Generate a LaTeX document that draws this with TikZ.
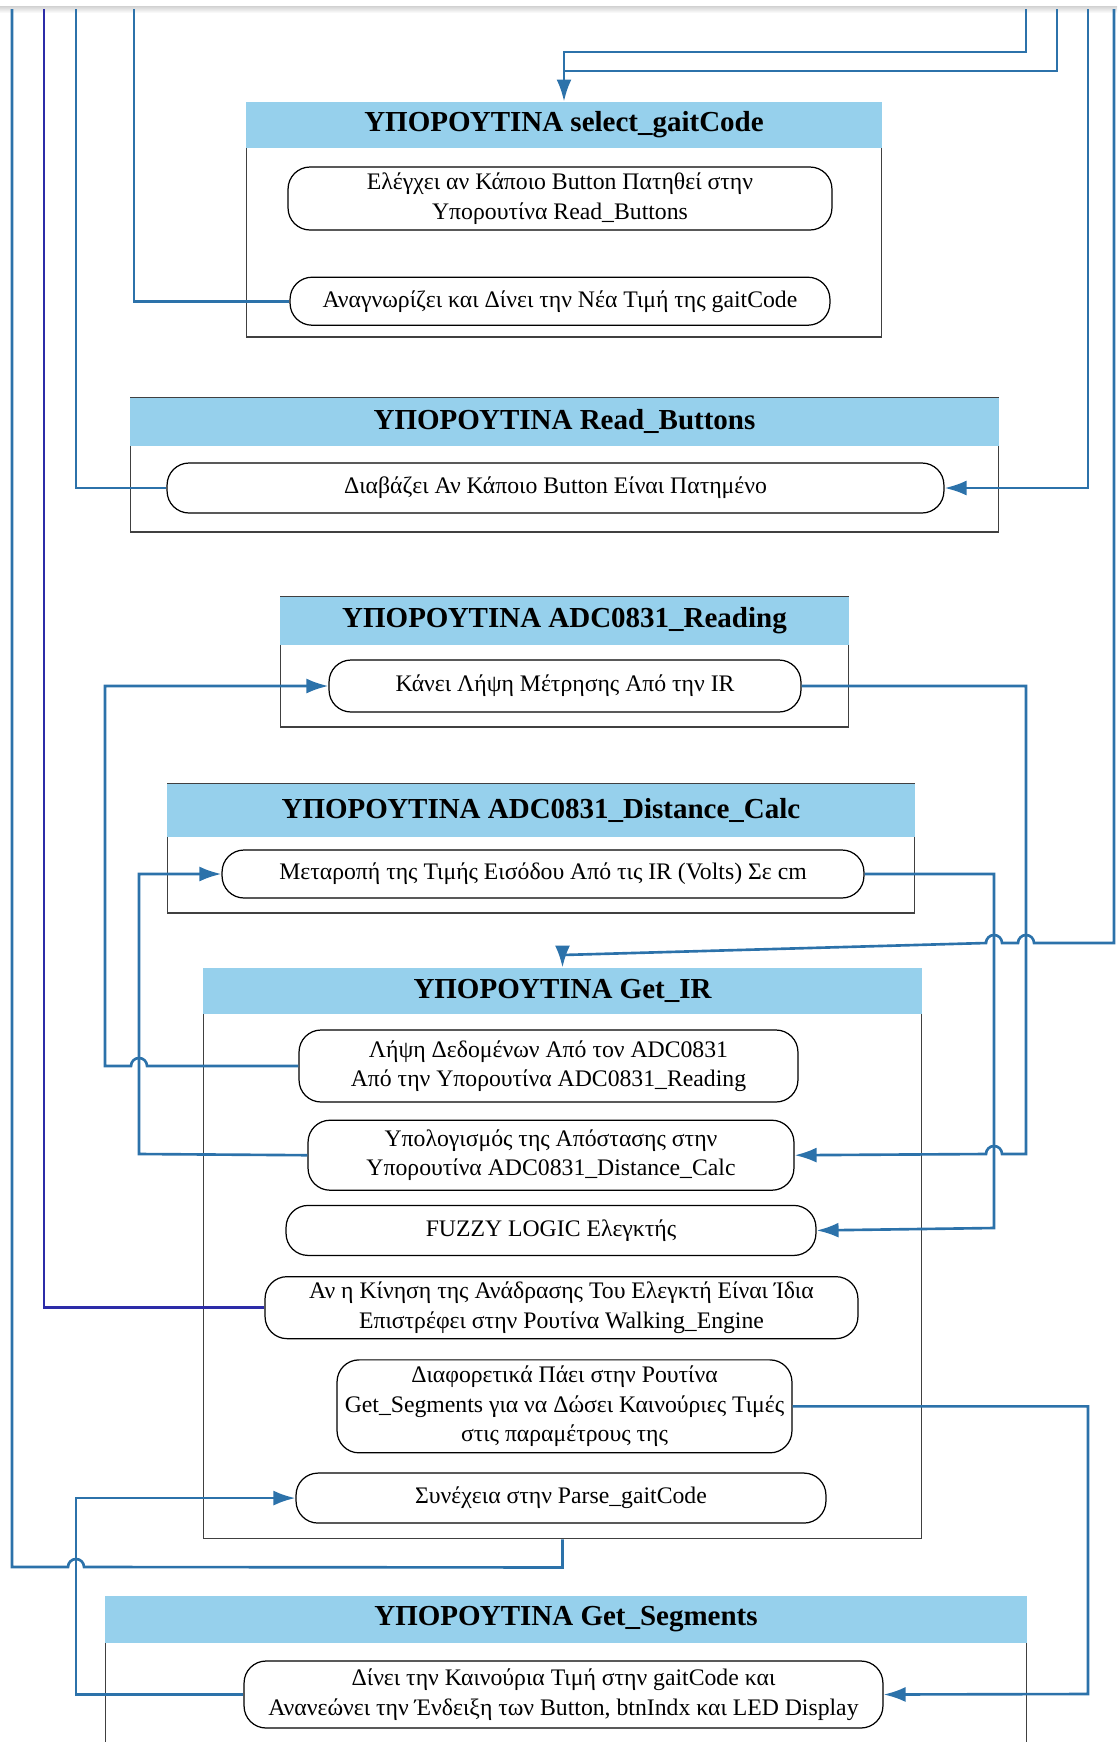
\documentclass[tikz,border=0pt]{standalone}
\usepackage{fontspec}
\setmainfont{Liberation Serif}
\usepackage{xcolor}
\usepackage{tikz}
\usetikzlibrary{arrows.meta, positioning}

\definecolor{headblue}{RGB}{150,208,236}
\definecolor{flowblue}{RGB}{44,114,170}
\definecolor{navyline}{RGB}{44,44,168}

\begin{document}
\begin{tikzpicture}[x=0.02cm, y=-0.02cm,
    container/.style={rectangle, draw=black!75, line width=0.6pt},
    header/.style={rectangle, fill=headblue, anchor=north, inner sep=0pt, font=\fontsize{16.5}{19}\selectfont\bfseries},
    task/.style={rectangle, draw, line width=0.7pt, rounded corners=0.44cm, align=center, inner sep=0pt, font=\fontsize{13.5}{16.8}\selectfont},
    flow/.style={flowblue, line width=1.5pt},
    arrow/.style={flow, -{Latex[length=0.44cm, width=0.3cm]}}]

    \useasboundingbox (0,0) rectangle (1117,1742);
    \clip (0,0) rectangle (1117,1742);
    \shade[top color=black!18, bottom color=white] (0,6) rectangle (1117,13);

    % select_gaitCode
    \node[container, minimum width=12.72cm, minimum height=4.70cm] (sel_box) at (564,219.5) {};
    \node[header, minimum width=12.72cm, minimum height=0.92cm] (sel_title) at (sel_box.north) {ΥΠΟΡΟΥΤΙΝΑ select\_gaitCode};
    \node[task, minimum width=10.88cm, minimum height=1.26cm] (sel_check) at (560,198.5) {Ελέγχει αν Κάποιο Button Πατηθεί στην\\Υπορουτίνα Read\_Buttons};
    \node[task, minimum width=10.80cm, minimum height=0.96cm, below=0.92cm of sel_check] (sel_new) {Αναγνωρίζει και Δίνει την Νέα Τιμή της gaitCode};

    % Read_Buttons
    \node[container, minimum width=17.38cm, minimum height=2.68cm] (rb_box) at (564.5,465) {};
    \node[header, minimum width=17.38cm, minimum height=0.96cm] (rb_title) at (rb_box.north) {ΥΠΟΡΟΥΤΙΝΑ Read\_Buttons};
    \node[task, minimum width=15.54cm, minimum height=1.00cm] (rb_read) at (555.5,488) {Διαβάζει Αν Κάποιο Button Είναι Πατημένο};

    % ADC0831_Reading
    \node[container, minimum width=11.38cm, minimum height=2.60cm] (adc_box) at (564.5,662) {};
    \node[header, minimum width=11.38cm, minimum height=0.96cm] (adc_title) at (adc_box.north) {ΥΠΟΡΟΥΤΙΝΑ ADC0831\_Reading};
    \node[task, minimum width=9.44cm, minimum height=1.04cm] (adc_read) at (565,686) {Κάνει Λήψη Μέτρησης Από την IR};

    % ADC0831_Distance_Calc
    \node[container, minimum width=14.96cm, minimum height=2.58cm] (dc_box) at (541,848.5) {};
    \node[header, minimum width=14.96cm, minimum height=1.06cm] (dc_title) at (dc_box.north) {ΥΠΟΡΟΥΤΙΝΑ ADC0831\_Distance\_Calc};
    \node[task, minimum width=12.84cm, minimum height=0.96cm] (dc_conv) at (543,874) {Μεταροπή της Τιμής Εισόδου Από τις IR (Volts) Σε cm};

    % Get_IR
    \node[container, minimum width=14.38cm, minimum height=11.42cm] (ir_box) at (562.5,1253.5) {};
    \node[header, minimum width=14.38cm, minimum height=0.92cm] (ir_title) at (ir_box.north) {ΥΠΟΡΟΥΤΙΝΑ Get\_IR};
    \node[task, minimum width=9.98cm, minimum height=1.44cm] (ir_load) at (548.5,1066) {Λήψη Δεδομένων Από τον ADC0831\\Από την Υπορουτίνα ADC0831\_Reading};
    \node[task, minimum width=9.72cm, minimum height=1.40cm, below=0.34cm of ir_load, xshift=0.05cm] (ir_calc) {Υπολογισμός της Απόστασης στην\\Υπορουτίνα ADC0831\_Distance\_Calc};
    \node[task, minimum width=10.60cm, minimum height=1.00cm, below=0.28cm of ir_calc] (ir_fuzzy) {FUZZY LOGIC Ελεγκτής};
    \node[task, minimum width=11.86cm, minimum height=1.24cm, below=0.40cm of ir_fuzzy, xshift=0.21cm] (ir_same) {Αν η Κίνηση της Ανάδρασης Του Ελεγκτή Είναι Ίδια\\Επιστρέφει στην Ρουτίνα Walking\_Engine};
    \node[task, minimum width=9.10cm, minimum height=1.86cm, below=0.40cm of ir_same, xshift=0.06cm] (ir_else) {Διαφορετικά Πάει στην Ρουτίνα\\Get\_Segments για να Δώσει Καινούριες Τιμές\\στις παραμέτρους της};
    \node[task, minimum width=10.60cm, minimum height=1.00cm, below=0.38cm of ir_else, xshift=-0.07cm] (ir_next) {Συνέχεια στην Parse\_gaitCode};

    % Get_Segments
    \node[container, minimum width=18.44cm, minimum height=3.68cm] (gs_box) at (566,1688) {};
    \node[header, minimum width=18.44cm, minimum height=0.94cm] (gs_title) at (gs_box.north) {ΥΠΟΡΟΥΤΙΝΑ Get\_Segments};
    \node[task, minimum width=12.78cm, minimum height=1.34cm] (gs_new) at (563.5,1694.5) {Δίνει την Καινούρια Τιμή στην gaitCode και\\Ανανεώνει την Ένδειξη των Button, btnIndx και LED Display};

    % Line ends at the top edge
    \coordinate (top_ret)  at (12,9);
    \coordinate (top_walk) at (44,9);
    \coordinate (top_rb)   at (76,9);
    \coordinate (top_sel)  at (134,9);
    \coordinate (top_in1)  at (1026,9);
    \coordinate (top_in2)  at (1057,9);
    \coordinate (top_in3)  at (1088,9);
    \coordinate (top_in4)  at (1114,9);

    % Links leaving to the top
    \draw[flow] (sel_new.west) -| (top_sel);
    \draw[flow] (rb_read.west) -| (top_rb);
    \draw[flow, navyline] (ir_same.west) -| (top_walk);
    \draw[flow] (ir_box.south) -- ++(0,28) -- (84,1567) arc[start angle=0, end angle=180, radius=0.16cm] -| (top_ret);

    % Links coming in from the top
    \draw[arrow] (top_in1) |- (sel_title.north |- 0,52) -- (sel_title.north);
    \draw[flow] (top_in2) |- (sel_title.north |- 0,71);
    \draw[arrow] (top_in3) |- (rb_read.east);
    \draw[arrow] (top_in4) |- (1034,943) arc[start angle=0, end angle=180, radius=0.16cm]
        -- (1002,943) arc[start angle=0, end angle=180, radius=0.16cm]
        -- (ir_title.north |- 0,955) -- (ir_title.north);

    % Get_IR calls
    \draw[arrow] (ir_load.west) -- (147,1066) arc[start angle=0, end angle=180, radius=0.16cm] -- (105,1066) |- (adc_read.west);
    \draw[arrow] (adc_read.east) -| (1026,1154) -- (1002,1154) arc[start angle=0, end angle=180, radius=0.16cm] -- (ir_calc.east);
    \draw[arrow] (ir_calc.west) -- (139,1154) |- (dc_conv.west);
    \draw[arrow] (dc_conv.east) -| (994,1228) -- (ir_fuzzy.east);

    % Get_Segments and back
    \draw[arrow] (ir_else.east) -| (1088,1694) -- (gs_new.east);
    \draw[arrow] (gs_new.west) -| (76,1600) |- (ir_next.west);

\end{tikzpicture}
\end{document}
